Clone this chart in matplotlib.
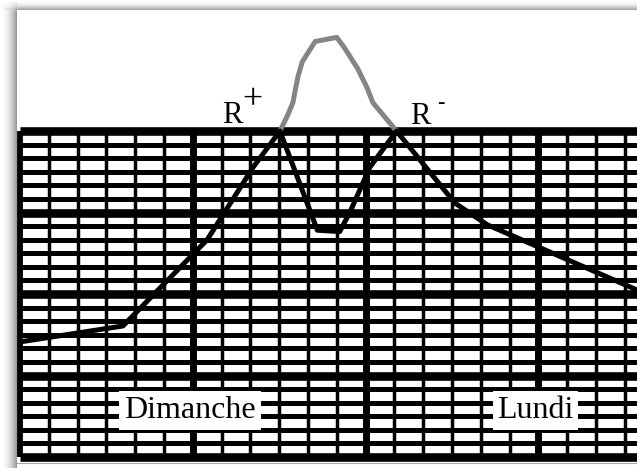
import numpy as np
import matplotlib.pyplot as plt

# black curve (hours from left edge, level in grid rows)
hours = [0.3, 14.3, 26.0, 32.4, 36.1, 41.3, 44.4, 45.8, 48.6, 52.3, 60.4, 64.9, 85.7]
level = [8.5, 9.65, 16.0, 21.35, 24.0, 16.7, 16.6, 18.0, 21.35, 24.0, 18.7, 17.1, 12.3]

# grey part between R+ and R-
peak_hours = [36.1, 37.2, 37.9, 38.6, 39.2, 41.0, 44.0, 45.1, 46.9, 48.2, 49.0, 52.3]
peak_level = [24.0, 25.2, 26.1, 28.0, 29.1, 30.6, 30.9, 30.1, 28.6, 27.2, 26.1, 24.0]

day_names = ['Dimanche', 'Lundi']
day_hours = [24, 72]
r_signs = ['+', '-']

W, H = 637, 468
fig = plt.figure(figsize=(W / 100, H / 100), dpi=100)
fig.patch.set_facecolor('white')

# paper shadow on the left and top
bg = fig.add_axes([0, 0, 1, 1])
xs = np.arange(W)[None, :]
ys = np.arange(H)[:, None]
sx = np.where(xs < 17, (xs / 17.0) ** 2, 0) * np.clip(ys / 12.0, 0, 1)
sy = np.where(ys < 10, (ys / 10.0) ** 2, 0) * np.clip(xs / 20.0, 0, 1)
shade = 1 - 0.45 * np.maximum(sx, sy)
bg.imshow(shade, cmap='gray', vmin=0, vmax=1, aspect='auto', extent=[0, W, H, 0])
bg.axis('off')

ax = fig.add_axes([17 / W, 5 / H, (W - 17) / W, (463 - 10) / H])
ax.set_facecolor('white')
xmax = (637 - 20) / 7.2
ax.set_xlim((17 - 20) / 7.2, xmax)
ax.set_ylim((457 - 463) / 13.58, (457 - 10) / 13.58)
ax.set_xticks([])
ax.set_yticks([])
for s in ['top', 'left', 'right']:
    ax.spines[s].set_visible(False)
ax.spines['bottom'].set_color('#aaaaaa')
ax.spines['bottom'].set_linewidth(0.8)

rows = np.arange(25)
ax.hlines(rows, 0, xmax, colors='black',
          linewidths=[6.2 if r % 6 == 0 else 3.6 for r in rows], zorder=1)
cols = np.arange(0, 86, 4)
ax.vlines(cols, 0, 24, colors='black',
          linewidths=[4.2 if c == 0 else (5.0 if c % 24 == 0 else 2.5) for c in cols], zorder=1)

ax.plot(peak_hours, peak_level, color='#858585', lw=3.6, solid_joinstyle='round', zorder=3)
ax.plot(hours, level, color='black', lw=3.6, solid_joinstyle='round', zorder=3)

for name, h in zip(day_names, day_hours):
    ax.text(h - 0.4, 2.87, name, ha='center', va='baseline', fontsize=23,
            family='Liberation Serif', zorder=4,
            bbox=dict(boxstyle='square,pad=0.15', fc='white', ec='none'))

ax.text(28.0, 24.6, 'R', fontsize=22, family='Liberation Serif', va='baseline', zorder=4)
ax.text(30.8, 25.6, r_signs[0], fontsize=26, family='Liberation Serif', va='baseline', zorder=4)
ax.text(54.2, 24.5, 'R', fontsize=22, family='Liberation Serif', va='baseline', zorder=4)
ax.text(57.9, 25.7, r_signs[1], fontsize=16, family='Liberation Serif', va='baseline', zorder=4)

fig.savefig('out.png', dpi=100)
